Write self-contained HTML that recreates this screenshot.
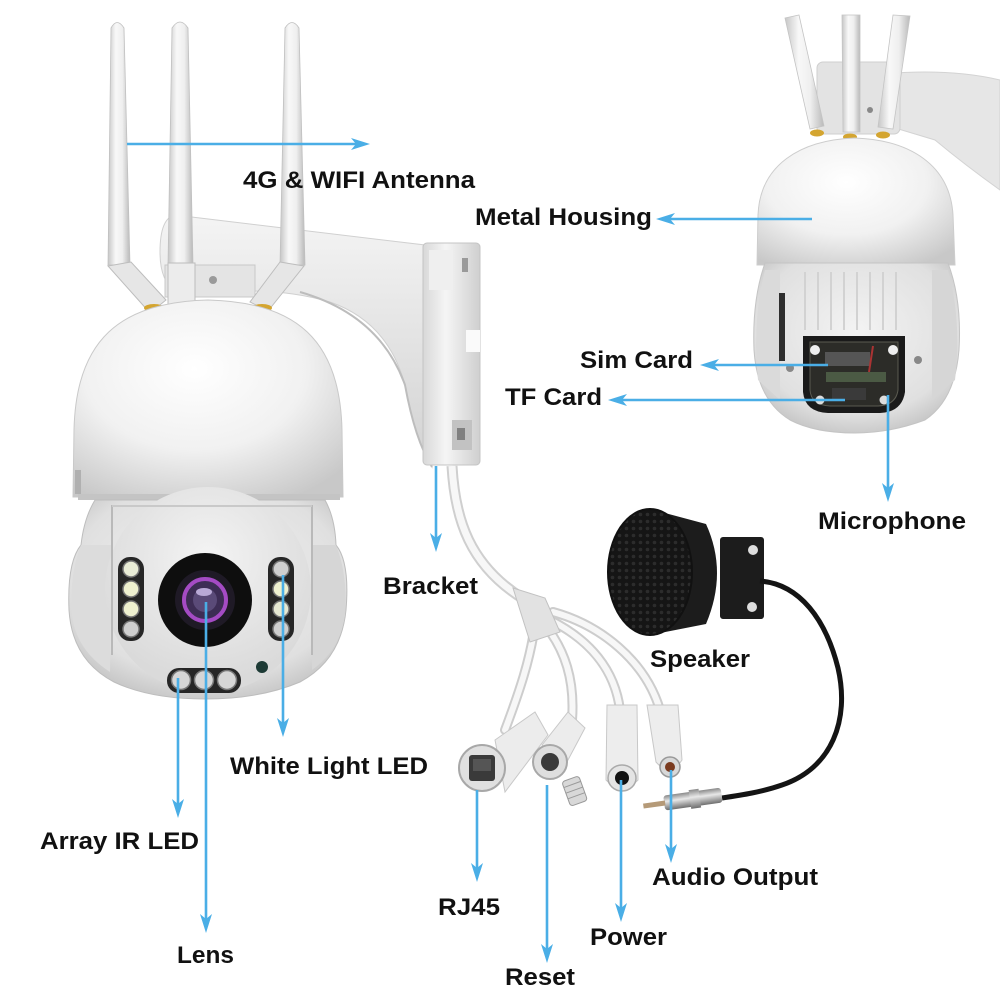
<!DOCTYPE html>
<html>
<head>
<meta charset="utf-8">
<style>
  html,body{margin:0;padding:0;background:#fff;}
  svg{display:block;}
  .lbl{font-family:"Liberation Sans",Arial,sans-serif;font-weight:bold;font-size:24px;fill:#111;}
  .ar{stroke:#4aaee6;stroke-width:2.6;fill:none;}
  .ah{fill:#4aaee6;}
</style>
</head>
<body>
<svg width="1000" height="1000" viewBox="0 0 1000 1000" xmlns="http://www.w3.org/2000/svg">
<defs>
  <linearGradient id="antG" x1="0" y1="0" x2="1" y2="0">
    <stop offset="0" stop-color="#c6c6c6"/>
    <stop offset="0.35" stop-color="#f8f8f8"/>
    <stop offset="0.65" stop-color="#efefef"/>
    <stop offset="1" stop-color="#b9b9b9"/>
  </linearGradient>
  <radialGradient id="domeG" cx="0.45" cy="0.35" r="0.75">
    <stop offset="0" stop-color="#ffffff"/>
    <stop offset="0.55" stop-color="#f1f1f1"/>
    <stop offset="1" stop-color="#c8c8c8"/>
  </radialGradient>
  <radialGradient id="bodyG" cx="0.5" cy="0.4" r="0.7">
    <stop offset="0" stop-color="#f3f3f3"/>
    <stop offset="0.7" stop-color="#e0e0e0"/>
    <stop offset="1" stop-color="#b8b8b8"/>
  </radialGradient>
  <radialGradient id="faceG" cx="0.5" cy="0.35" r="0.6">
    <stop offset="0" stop-color="#f4f4f4"/>
    <stop offset="1" stop-color="#dadada"/>
  </radialGradient>
  <linearGradient id="armG" x1="0" y1="0" x2="0" y2="1">
    <stop offset="0" stop-color="#f4f4f4"/>
    <stop offset="1" stop-color="#d2d2d2"/>
  </linearGradient>
  <linearGradient id="plateG" x1="0" y1="0" x2="1" y2="0">
    <stop offset="0" stop-color="#d8d8d8"/>
    <stop offset="0.4" stop-color="#f5f5f5"/>
    <stop offset="1" stop-color="#cfcfcf"/>
  </linearGradient>
  <linearGradient id="silverG" x1="0" y1="0" x2="0" y2="1">
    <stop offset="0" stop-color="#8a8a8a"/>
    <stop offset="0.4" stop-color="#e8e8e8"/>
    <stop offset="1" stop-color="#6e6e6e"/>
  </linearGradient>
  <pattern id="mesh" width="7" height="7" patternUnits="userSpaceOnUse">
    <rect width="7" height="7" fill="#151515"/>
    <circle cx="3.5" cy="3.5" r="1.8" fill="#2c2c2c"/>
  </pattern>
</defs>

<rect width="1000" height="1000" fill="#ffffff"/>

<!-- ============ LEFT CAMERA ============ -->
<path d="M175,215 L425,245 L432,467 Q415,440 405,385 Q388,322 330,302 Q290,290 240,291 L176,291 Q160,282 160,252 Q160,218 175,215 Z" fill="url(#armG)" stroke="#d0d0d0" stroke-width="1"/>
<path d="M300,292 Q380,315 405,385 Q415,440 432,467" fill="none" stroke="#bdbdbd" stroke-width="2"/>
<rect x="423" y="243" width="57" height="222" rx="4" fill="url(#plateG)" stroke="#c4c4c4"/>
<rect x="429" y="250" width="24" height="40" fill="#efefef"/>
<rect x="462" y="258" width="6" height="14" fill="#9a9a9a"/>
<rect x="466" y="330" width="14" height="22" fill="#fafafa"/>
<rect x="452" y="420" width="20" height="30" fill="#c2c2c2"/>
<rect x="457" y="428" width="8" height="12" fill="#808080"/>

<path d="M108,265 L111,28 Q117,17 124,28 L130,265 Z" fill="url(#antG)" stroke="#c0c0c0" stroke-width="0.8"/>
<path d="M168,265 L172,28 Q180,16 188,28 L193,265 Z" fill="url(#antG)" stroke="#c0c0c0" stroke-width="0.8"/>
<path d="M280,265 L285,28 Q292,17 299,28 L305,265 Z" fill="url(#antG)" stroke="#c0c0c0" stroke-width="0.8"/>
<rect x="165" y="265" width="90" height="32" fill="#e4e4e4" stroke="#c8c8c8"/>
<polygon points="108,266 131,262 166,300 150,313" fill="#e6e6e6" stroke="#bdbdbd"/>
<polygon points="280,262 304,266 268,311 250,302" fill="#e6e6e6" stroke="#bdbdbd"/>
<rect x="168" y="263" width="27" height="44" fill="#ececec" stroke="#bdbdbd"/>
<circle cx="213" cy="280" r="4" fill="#9a9a9a"/>
<ellipse cx="154" cy="308" rx="10" ry="4" fill="#d4a530"/>
<ellipse cx="187" cy="310" rx="11" ry="4" fill="#d4a530"/>
<ellipse cx="262" cy="308" rx="10" ry="4" fill="#d4a530"/>

<path d="M73,497 L74,430 C76,340 120,302 208,300 C296,302 340,340 342,430 L343,497 Z" fill="url(#domeG)" stroke="#c9c9c9" stroke-width="1"/>
<rect x="78" y="494" width="262" height="6" fill="#c4c4c4"/>
<rect x="75" y="470" width="6" height="24" fill="#b0b0b0"/>

<path d="M95,500 L325,500 Q335,518 336,545 Q350,562 346,610 Q341,660 300,682 Q260,699 205,699 Q150,699 114,682 Q72,660 69,610 Q67,562 81,545 Q84,518 95,500 Z" fill="url(#bodyG)" stroke="#bdbdbd"/>
<path d="M81,545 Q69,575 72,615 Q76,650 110,672 L112,545 Z" fill="#dcdcdc"/>
<path d="M336,545 Q348,575 345,615 Q340,650 312,670 L312,545 Z" fill="#d6d6d6"/>
<circle cx="208" cy="590" r="103" fill="url(#faceG)"/>
<line x1="112" y1="505" x2="112" y2="655" stroke="#b9b9b9" stroke-width="2"/>
<line x1="312" y1="505" x2="312" y2="655" stroke="#b9b9b9" stroke-width="2"/>
<path d="M112,506 L312,506" stroke="#c9c9c9" stroke-width="2"/>

<rect x="118" y="557" width="26" height="84" rx="12" fill="#262626"/>
<circle cx="131" cy="569" r="8" fill="#e9ecd6" stroke="#777" stroke-width="1.5"/>
<circle cx="131" cy="589" r="8" fill="#eef0cf" stroke="#777" stroke-width="1.5"/>
<circle cx="131" cy="609" r="8" fill="#eef0cf" stroke="#777" stroke-width="1.5"/>
<circle cx="131" cy="629" r="8" fill="#cfcfcf" stroke="#777" stroke-width="1.5"/>
<rect x="268" y="557" width="26" height="84" rx="12" fill="#262626"/>
<circle cx="281" cy="569" r="8" fill="#cfcfcf" stroke="#777" stroke-width="1.5"/>
<circle cx="281" cy="589" r="8" fill="#eef0cf" stroke="#777" stroke-width="1.5"/>
<circle cx="281" cy="609" r="8" fill="#e6e8d2" stroke="#777" stroke-width="1.5"/>
<circle cx="281" cy="629" r="8" fill="#cfcfcf" stroke="#777" stroke-width="1.5"/>
<rect x="167" y="668" width="74" height="25" rx="12" fill="#262626"/>
<circle cx="181" cy="680" r="9.5" fill="#d6d6d6" stroke="#777" stroke-width="1.5"/>
<circle cx="204" cy="680" r="9.5" fill="#d6d6d6" stroke="#777" stroke-width="1.5"/>
<circle cx="227" cy="680" r="9.5" fill="#d6d6d6" stroke="#777" stroke-width="1.5"/>
<circle cx="205" cy="600" r="47" fill="#0e0e0e"/>
<circle cx="205" cy="600" r="30" fill="#1f1a26"/>
<circle cx="205" cy="600" r="21" fill="#3d2d55" stroke="#a44bc4" stroke-width="4"/>
<circle cx="205" cy="600" r="12" fill="#5a4a78"/>
<ellipse cx="204" cy="592" rx="8" ry="4" fill="#b9a9d6"/>
<circle cx="262" cy="667" r="6" fill="#1d3a35"/>

<!-- ============ RIGHT CAMERA ============ -->
<path d="M880,74 Q950,68 1000,80 L1000,190 Q965,165 935,140 L895,128 Z" fill="#e6e6e6" stroke="#d3d3d3"/>
<rect x="817" y="62" width="83" height="72" rx="6" fill="#e3e3e3" stroke="#cfcfcf"/>
<polygon points="785,18 799,15 824,126 810,129" fill="url(#antG)" stroke="#c4c4c4" stroke-width="0.8"/>
<polygon points="842,15 860,15 860,132 843,132" fill="url(#antG)" stroke="#c4c4c4" stroke-width="0.8"/>
<polygon points="893,15 910,16 893,129 878,127" fill="url(#antG)" stroke="#c4c4c4" stroke-width="0.8"/>
<circle cx="870" cy="110" r="3" fill="#888"/>
<ellipse cx="817" cy="133" rx="7" ry="3.5" fill="#d4a530"/>
<ellipse cx="850" cy="137" rx="7" ry="3.5" fill="#d4a530"/>
<ellipse cx="883" cy="135" rx="7" ry="3.5" fill="#d4a530"/>
<path d="M757,265 L758,215 C760,165 800,140 855,138 C910,140 950,165 953,215 L955,265 Z" fill="url(#domeG)" stroke="#cdcdcd"/>
<path d="M765,263 L948,263 Q962,300 959,350 Q955,400 925,420 Q890,433 855,433 Q815,433 790,420 Q757,400 754,350 Q752,300 765,263 Z" fill="url(#bodyG)" stroke="#c4c4c4"/>
<path d="M765,270 Q752,320 758,380 L780,400 L780,270 Z" fill="#dadada"/>
<path d="M948,270 Q962,320 955,380 L932,400 L932,270 Z" fill="#d6d6d6"/>
<g stroke="#d2d2d2" stroke-width="2">
  <line x1="805" y1="272" x2="805" y2="330"/><line x1="818" y1="272" x2="818" y2="330"/>
  <line x1="831" y1="272" x2="831" y2="330"/><line x1="844" y1="272" x2="844" y2="330"/>
  <line x1="857" y1="272" x2="857" y2="330"/><line x1="870" y1="272" x2="870" y2="330"/>
  <line x1="883" y1="272" x2="883" y2="330"/><line x1="896" y1="272" x2="896" y2="330"/>
</g>
<rect x="779" y="293" width="6" height="68" fill="#2e2e2e"/>
<circle cx="790" cy="368" r="4" fill="#888"/>
<circle cx="918" cy="360" r="4" fill="#888"/>
<path d="M803,336 L905,336 L905,392 Q902,412 880,413 L828,413 Q805,412 803,392 Z" fill="#1a1a1a"/>
<path d="M810,342 L898,342 L898,390 Q896,405 878,406 L830,406 Q811,405 810,390 Z" fill="#2c2c28" stroke="#5a5a50" stroke-width="1"/>
<rect x="825" y="352" width="45" height="14" fill="#555"/>
<rect x="826" y="372" width="60" height="10" fill="#4b5a44"/>
<rect x="832" y="388" width="34" height="12" fill="#3a3a3a"/>
<line x1="873" y1="346" x2="869" y2="372" stroke="#a33" stroke-width="2"/>
<circle cx="815" cy="350" r="5" fill="#eee"/>
<circle cx="893" cy="350" r="5" fill="#eee"/>
<circle cx="820" cy="400" r="4.5" fill="#ddd"/>
<circle cx="884" cy="400" r="4.5" fill="#ddd"/>

<!-- ============ SPEAKER ============ -->
<path d="M650,509 L706,524 Q728,572 706,624 L650,635 Z" fill="#1c1c1c"/>
<ellipse cx="650" cy="572" rx="42" ry="63" fill="url(#mesh)"/>
<ellipse cx="650" cy="572" rx="42" ry="63" fill="none" stroke="#111" stroke-width="2"/>
<rect x="720" y="537" width="44" height="82" rx="3" fill="#1c1c1c"/>
<circle cx="753" cy="550" r="5" fill="#ddd"/>
<circle cx="752" cy="607" r="5" fill="#ddd"/>
<path d="M760,581 C800,584 826,620 838,668 C850,720 832,768 782,785 C762,792 742,795 722,798" fill="none" stroke="#141414" stroke-width="5"/>
<g transform="rotate(-8 690 800)">
  <rect x="664" y="792" width="58" height="15" rx="3" fill="url(#silverG)"/>
  <rect x="690" y="790" width="10" height="19" fill="url(#silverG)"/>
  <rect x="643" y="797" width="22" height="5" fill="#b59a78"/>
</g>

<!-- ============ CABLE / CONNECTORS ============ -->
<path d="M452,466 C455,520 470,565 522,598" fill="none" stroke="#cfcfcf" stroke-width="11"/>
<path d="M452,466 C455,520 470,565 522,598" fill="none" stroke="#f7f7f7" stroke-width="7"/>
<g fill="none" stroke-linecap="round">
  <path d="M535,625 C530,660 520,690 505,730" stroke="#cdcdcd" stroke-width="10"/>
  <path d="M535,625 C530,660 520,690 505,730" stroke="#f7f7f7" stroke-width="6"/>
  <path d="M545,625 C565,650 575,680 572,720" stroke="#cdcdcd" stroke-width="10"/>
  <path d="M545,625 C565,650 575,680 572,720" stroke="#f7f7f7" stroke-width="6"/>
  <path d="M550,620 C590,640 615,670 620,710" stroke="#cdcdcd" stroke-width="10"/>
  <path d="M550,620 C590,640 615,670 620,710" stroke="#f7f7f7" stroke-width="6"/>
  <path d="M553,612 C600,625 645,660 660,710" stroke="#cdcdcd" stroke-width="10"/>
  <path d="M553,612 C600,625 645,660 660,710" stroke="#f7f7f7" stroke-width="6"/>
</g>
<polygon points="513,588 545,598 560,632 530,642" fill="#e2e2e2" stroke="#c2c2c2"/>
<polygon points="495,740 535,712 548,735 505,792" fill="#ececec" stroke="#c8c8c8"/>
<circle cx="482" cy="768" r="23" fill="#e0e0e0" stroke="#a8a8a8" stroke-width="2"/>
<rect x="469" y="755" width="26" height="26" rx="3" fill="#3a3a3a"/>
<rect x="473" y="759" width="18" height="12" fill="#555"/>
<polygon points="542,745 568,712 585,728 560,775" fill="#ececec" stroke="#c8c8c8"/>
<circle cx="550" cy="762" r="17" fill="#dedede" stroke="#a8a8a8" stroke-width="2"/>
<circle cx="550" cy="762" r="9" fill="#3a3a3a"/>
<g transform="rotate(-20 575 792)">
  <rect x="566" y="778" width="18" height="26" rx="3" fill="#d8d8d8" stroke="#999"/>
  <line x1="566" y1="784" x2="584" y2="784" stroke="#999"/>
  <line x1="566" y1="790" x2="584" y2="790" stroke="#999"/>
  <line x1="566" y1="796" x2="584" y2="796" stroke="#999"/>
</g>
<path d="M607,705 L637,705 L638,780 Q622,796 606,780 Z" fill="#ededed" stroke="#c8c8c8"/>
<ellipse cx="622" cy="778" rx="14" ry="13" fill="#e4e4e4" stroke="#aaa" stroke-width="1.5"/>
<circle cx="622" cy="778" r="7" fill="#111"/>
<path d="M647,705 L678,705 L682,760 Q670,778 656,762 Z" fill="#ededed" stroke="#c8c8c8"/>
<circle cx="670" cy="767" r="10" fill="#d8d8d8" stroke="#999" stroke-width="1.5"/>
<circle cx="670" cy="767" r="5" fill="#7a3a1e"/>

<!-- ============ ARROWS ============ -->
<line class="ar" x1="127" y1="144" x2="356" y2="144"/>
<path class="ah" d="M370,144 l-19,-6 l5,6 l-5,6 z"/>
<line class="ar" x1="812" y1="219" x2="668" y2="219"/>
<path class="ah" d="M656,219 l19,-6 l-5,6 l5,6 z"/>
<line class="ar" x1="828" y1="365" x2="712" y2="365"/>
<path class="ah" d="M700,365 l19,-6 l-5,6 l5,6 z"/>
<line class="ar" x1="845" y1="400" x2="620" y2="400"/>
<path class="ah" d="M608,400 l19,-6 l-5,6 l5,6 z"/>
<line class="ar" x1="888" y1="395" x2="888" y2="490"/>
<path class="ah" d="M888,502 l-6,-19 l6,5 l6,-5 z"/>
<line class="ar" x1="436" y1="466" x2="436" y2="540"/>
<path class="ah" d="M436,552 l-6,-19 l6,5 l6,-5 z"/>
<line class="ar" x1="283" y1="575" x2="283" y2="725"/>
<path class="ah" d="M283,737 l-6,-19 l6,5 l6,-5 z"/>
<line class="ar" x1="178" y1="678" x2="178" y2="806"/>
<path class="ah" d="M178,818 l-6,-19 l6,5 l6,-5 z"/>
<line class="ar" x1="206" y1="602" x2="206" y2="921"/>
<path class="ah" d="M206,933 l-6,-19 l6,5 l6,-5 z"/>
<line class="ar" x1="477" y1="790" x2="477" y2="870"/>
<path class="ah" d="M477,882 l-6,-19 l6,5 l6,-5 z"/>
<line class="ar" x1="547" y1="785" x2="547" y2="951"/>
<path class="ah" d="M547,963 l-6,-19 l6,5 l6,-5 z"/>
<line class="ar" x1="621" y1="780" x2="621" y2="910"/>
<path class="ah" d="M621,922 l-6,-19 l6,5 l6,-5 z"/>
<line class="ar" x1="671" y1="770" x2="671" y2="851"/>
<path class="ah" d="M671,863 l-6,-19 l6,5 l6,-5 z"/>

<!-- ============ LABELS ============ -->
<text class="lbl" x="243" y="188" textLength="232" lengthAdjust="spacingAndGlyphs">4G &amp; WIFI Antenna</text>
<text class="lbl" x="475" y="225" textLength="177" lengthAdjust="spacingAndGlyphs">Metal Housing</text>
<text class="lbl" x="580" y="368" textLength="113" lengthAdjust="spacingAndGlyphs">Sim Card</text>
<text class="lbl" x="505" y="405" textLength="97" lengthAdjust="spacingAndGlyphs">TF Card</text>
<text class="lbl" x="818" y="529" textLength="148" lengthAdjust="spacingAndGlyphs">Microphone</text>
<text class="lbl" x="383" y="594" textLength="95" lengthAdjust="spacingAndGlyphs">Bracket</text>
<text class="lbl" x="650" y="667" textLength="100" lengthAdjust="spacingAndGlyphs">Speaker</text>
<text class="lbl" x="230" y="774" textLength="198" lengthAdjust="spacingAndGlyphs">White Light LED</text>
<text class="lbl" x="40" y="849" textLength="159" lengthAdjust="spacingAndGlyphs">Array IR LED</text>
<text class="lbl" x="177" y="963" textLength="57" lengthAdjust="spacingAndGlyphs">Lens</text>
<text class="lbl" x="438" y="915" textLength="62" lengthAdjust="spacingAndGlyphs">RJ45</text>
<text class="lbl" x="505" y="985" textLength="70" lengthAdjust="spacingAndGlyphs">Reset</text>
<text class="lbl" x="590" y="945" textLength="77" lengthAdjust="spacingAndGlyphs">Power</text>
<text class="lbl" x="652" y="885" textLength="166" lengthAdjust="spacingAndGlyphs">Audio Output</text>
</svg>
</body>
</html>
